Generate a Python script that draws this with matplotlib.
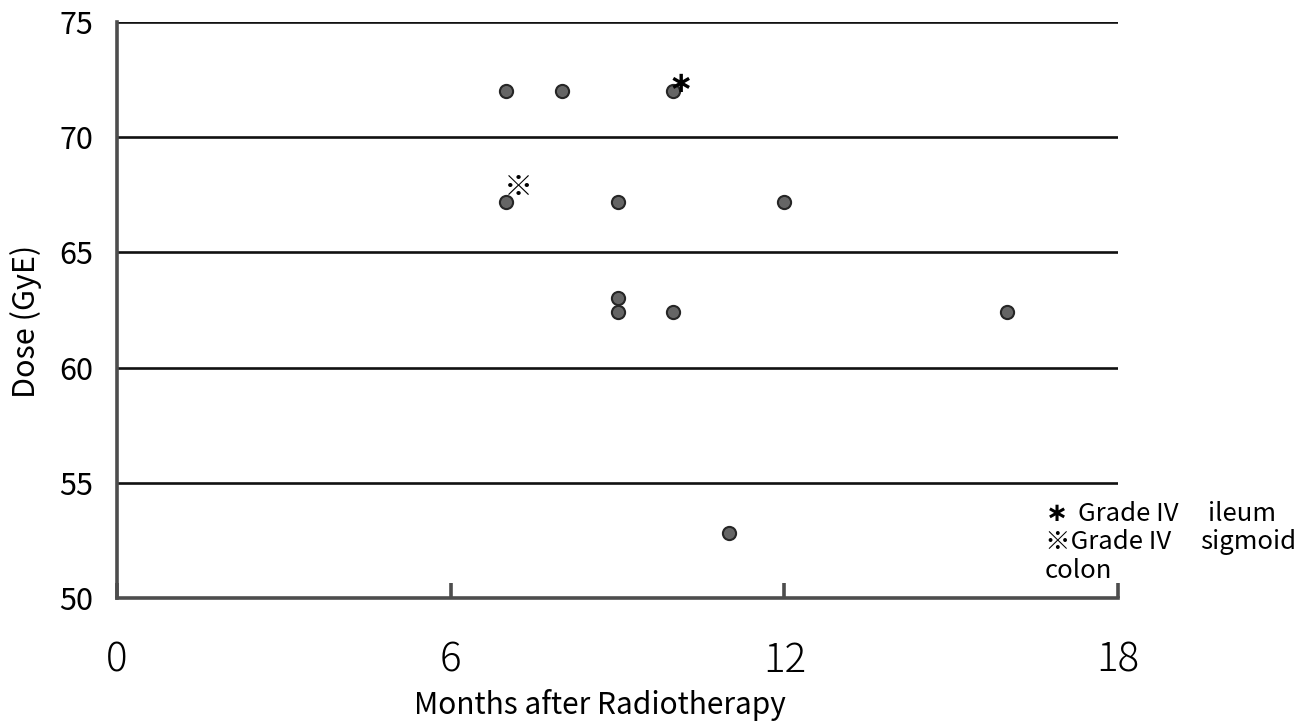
import matplotlib
matplotlib.use("Agg")
import matplotlib.pyplot as plt

plt.rcParams['font.family'] = ['Noto Sans CJK JP', 'DejaVu Sans']

W, H = 1314, 725

# Months after radiotherapy and dose for each case
months = [7, 8, 10, 7, 9, 12, 9, 9, 10, 16, 11]
dose = [72, 72, 72, 67.2, 67.2, 67.2, 63, 62.4, 62.4, 62.4, 52.8]

# Grade IV cases marked next to their points
flags = [(10, 72, "\u2217"), (7, 67.2, "※")]

x_ticks = [0, 6, 12, 18]
y_ticks = [50, 55, 60, 65, 70, 75]
grid_levels = [55, 60, 65, 70, 75]


def fx(px):
    return px / W


def fy(py):
    return 1 - py / H


fig = plt.figure(figsize=(W / 100, H / 100), dpi=100)
ax = fig.add_axes([fx(117), fy(598), fx(1118) - fx(117), fy(22) - fy(598)])
ax.set_xlim(0, 18)
ax.set_ylim(50, 75)

for lvl in grid_levels:
    ax.axhline(lvl, color="#111111", lw=1.9, zorder=1)

ax.scatter(months, dose, s=90, facecolor="#656565", edgecolor="#262626",
           linewidths=1.5, zorder=3)

ax.annotate(flags[0][2], (flags[0][0], flags[0][1]), xytext=(5.5, 5),
            textcoords="offset points", fontsize=21, fontweight="bold",
            ha="center", va="center", family=["DejaVu Sans"])
ax.annotate(flags[1][2], (flags[1][0], flags[1][1]), xytext=(9, 10),
            textcoords="offset points", fontsize=21,
            ha="center", va="center")

for side in ("top", "right"):
    ax.spines[side].set_visible(False)
for side in ("left", "bottom"):
    ax.spines[side].set_color("#4d4d4d")
    ax.spines[side].set_linewidth(2.6)

ax.set_xticks(x_ticks)
ax.set_xticklabels([str(t) for t in x_ticks], fontsize=29, fontweight="light")
ax.set_yticks(y_ticks)
ax.set_yticklabels([str(t) for t in y_ticks], fontsize=22)
ax.tick_params(axis="x", direction="in", length=11, width=2.6,
               color="#4d4d4d", pad=30)
ax.tick_params(axis="y", length=0, pad=17)

fig.text(fx(600), fy(705), "Months after Radiotherapy", fontsize=21.5,
         ha="center", va="center")
fig.text(fx(26), fy(321), "Dose (GyE)", fontsize=22, rotation=90,
         ha="center", va="center")

# Key to the two marks
key_size = 18.5
fig.text(fx(1057), fy(521), "\u2217", fontsize=19, fontweight="bold",
         ha="center", va="baseline", family=["DejaVu Sans"])
fig.text(fx(1078), fy(521), "Grade IV", fontsize=key_size, va="baseline")
fig.text(fx(1208), fy(521), "ileum", fontsize=key_size, va="baseline")
fig.text(fx(1045), fy(549), "※Grade IV", fontsize=key_size, va="baseline")
fig.text(fx(1200), fy(549), "sigmoid", fontsize=key_size, va="baseline")
fig.text(fx(1045), fy(578), "colon", fontsize=key_size, va="baseline")

fig.savefig("out.png", dpi=100, facecolor="white")
